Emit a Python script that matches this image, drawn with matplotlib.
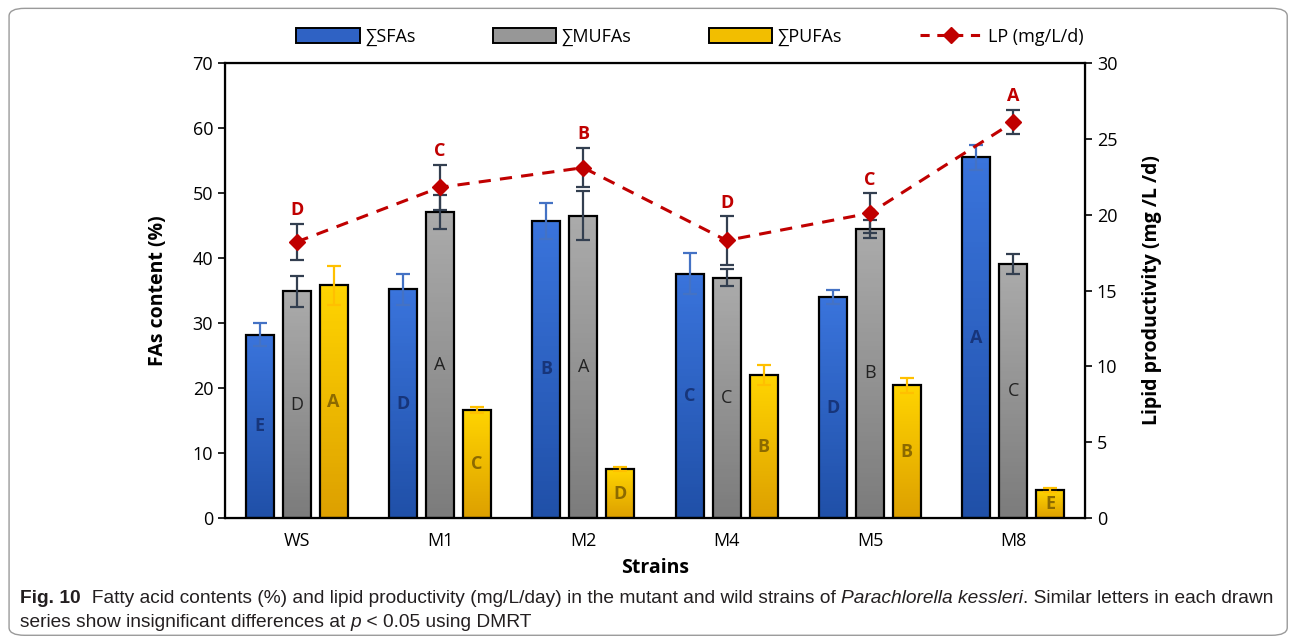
import numpy as np
import matplotlib
matplotlib.use("Agg")
import matplotlib.pyplot as plt
from matplotlib.colors import LinearSegmentedColormap
from matplotlib.patches import Patch, FancyBboxPatch
from matplotlib.lines import Line2D

plt.rcParams['font.family'] = ['Open Sans', 'DejaVu Sans']

strains = ["WS", "M1", "M2", "M4", "M5", "M8"]

sfa = [28.2, 35.2, 45.7, 37.6, 34.0, 55.5]
sfa_err = [1.8, 2.4, 2.7, 3.2, 1.1, 1.9]
sfa_grp = ["E", "D", "B", "C", "D", "A"]

mufa = [34.9, 47.1, 46.5, 37.0, 44.5, 39.1]
mufa_err = [2.4, 2.6, 3.8, 1.3, 1.4, 1.5]
mufa_grp = ["D", "A", "A", "C", "B", "C"]

pufa = [35.8, 16.6, 7.5, 22.0, 20.4, 4.3]
pufa_err = [3.0, 0.5, 0.3, 1.5, 1.2, 0.3]
pufa_grp = ["A", "C", "D", "B", "B", "E"]

lp = [18.2, 21.8, 23.1, 18.3, 20.1, 26.1]
lp_err = [1.2, 1.5, 1.3, 1.6, 1.3, 0.8]
lp_grp = ["D", "C", "B", "D", "C", "A"]

fig = plt.figure(figsize=(12.95, 6.43), dpi=100)
ax = fig.add_axes([0.1737, 0.1944, 0.6641, 0.7076])
ax2 = ax.twinx()

x = np.arange(len(strains))
step = 0.258
width = 0.195

series = [
    (sfa, sfa_err, sfa_grp, -step, ("#2050A8", "#3A74DC"), "#4472C4", "#17357A", "bold"),
    (mufa, mufa_err, mufa_grp, 0.0, ("#7C7C7C", "#ABABAB"), "#333F50", "#222222", "normal"),
    (pufa, pufa_err, pufa_grp, step, ("#DDA000", "#FFD400"), "#FFC000", "#8C6A00", "bold"),
]

grad = np.linspace(0, 1, 64).reshape(-1, 1)
for vals, errs, grp, off, (c_bot, c_top), ecol, tcol, tw in series:
    cmap = LinearSegmentedColormap.from_list("g", [c_bot, c_top])
    xs = x + off
    for xi, v in zip(xs, vals):
        ax.imshow(grad, cmap=cmap, origin="lower", aspect="auto", zorder=2,
                  extent=[xi - width / 2, xi + width / 2, 0, v])
    ax.bar(xs, vals, width, facecolor="none", edgecolor="black", linewidth=1.6, zorder=3)
    ax.errorbar(xs, vals, yerr=errs, fmt="none", ecolor=ecol, elinewidth=1.6,
                capsize=5, capthick=1.6, zorder=4)
    for xi, v, g in zip(xs, vals, grp):
        ax.text(xi, v / 2, g, ha="center", va="center", fontsize=13,
                color=tcol, fontweight=tw, zorder=5)

ax.set_xlim(-0.5, 5.5)
ax.set_ylim(0, 70)
ax.set_yticks(range(0, 71, 10))
ax.set_xticks(x)
ax.set_xticklabels(strains)
ax.tick_params(axis="x", length=0, labelsize=13, pad=10)
ax.tick_params(axis="y", direction="out", length=5, width=1.2, labelsize=13)
for s in ax.spines.values():
    s.set_linewidth(1.6)
ax.set_ylabel("FAs content (%)", fontsize=14, fontweight="bold", labelpad=18)
ax.set_xlabel("Strains", fontsize=14, fontweight="bold", labelpad=6)

# lipid productivity on the secondary axis
ax2.errorbar(x, lp, yerr=lp_err, fmt="none", ecolor="#333F50", elinewidth=1.6,
             capsize=5, capthick=1.6, zorder=3)
ax2.plot(x, lp, color="#C00000", linestyle=(0, (4, 3)), linewidth=2.2,
         marker="D", markersize=8, markerfacecolor="#C00000",
         markeredgecolor="#C00000", zorder=4)
for xi, v, e, g in zip(x, lp, lp_err, lp_grp):
    ax2.text(xi, v + e + 0.3, g, ha="center", va="bottom", fontsize=13,
             color="#C00000", fontweight="bold")
ax2.set_ylim(0, 30)
ax2.set_yticks(range(0, 31, 5))
ax2.tick_params(axis="y", direction="out", length=5, width=1.2, labelsize=13)
ax2.set_ylabel("Lipid productivity (mg /L /d)", fontsize=14, fontweight="bold",
               rotation=90, labelpad=18)

handles = [
    Patch(facecolor="#2F62C4", edgecolor="black", linewidth=1.4),
    Patch(facecolor="#979797", edgecolor="black", linewidth=1.4),
    Patch(facecolor="#F2BE00", edgecolor="black", linewidth=1.4),
    Line2D([], [], color="#C00000", linestyle=(0, (3, 2.5)), linewidth=2.2,
           marker="D", markersize=8),
]
labels = ["\u2211SFAs", "\u2211MUFAs", "\u2211PUFAs", "LP (mg/L/d)"]
fig.legend(handles, labels, loc="center", bbox_to_anchor=(0.533, 0.942), ncol=4,
           frameon=False, fontsize=13, handlelength=3.5, handleheight=0.9,
           handletextpad=0.3, columnspacing=4.3)

# rounded frame around the whole figure
frame = FancyBboxPatch((0.007, 0.012), 0.987, 0.975, transform=fig.transFigure,
                       boxstyle="round,pad=0,rounding_size=0.012",
                       facecolor="none", edgecolor="#9A9A9A", linewidth=1.0)
fig.patches.append(frame)

# caption with mixed styles, laid out piece by piece
cap_font = ["Liberation Sans", "DejaVu Sans"]
renderer = fig.canvas.get_renderer()

line1 = [
    ("Fig. 10", "bold", "normal"),
    ("  Fatty acid contents (%) and lipid productivity (mg/L/day) in the mutant and wild strains of ",
     "normal", "normal"),
    ("Parachlorella kessleri", "normal", "italic"),
    (". Similar letters in each drawn", "normal", "normal"),
]
line2 = [
    ("series show insignificant differences at ", "normal", "normal"),
    ("p", "normal", "italic"),
    (" < 0.05 using DMRT", "normal", "normal"),
]


def caption_line(pieces, x0, y0, size):
    xpos = x0
    for txt, weight, style in pieces:
        t = fig.text(xpos, y0, txt, fontsize=size, fontweight=weight, fontstyle=style,
                     family=cap_font, color="#231F20", va="baseline", ha="left")
        bb = t.get_window_extent(renderer=renderer)
        xpos += bb.width / fig.bbox.width
    return xpos - x0


# size the caption so the first line spans the frame width
w = caption_line(line1, 0.0155, 0.062, 12)
for t in fig.texts[-len(line1):]:
    t.remove()
size = 12 * (1258 / 1295) / w
caption_line(line1, 0.0155, 0.062, size)
caption_line(line2, 0.0155, 0.025, size)

fig.savefig("out.png", dpi=100)
